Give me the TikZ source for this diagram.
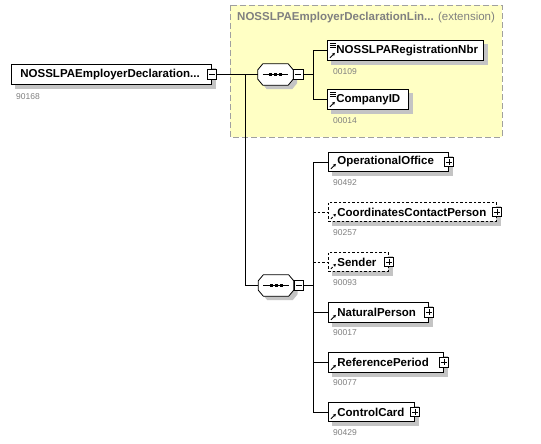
\documentclass[tikz,border=0pt]{standalone}
\usepackage{fontspec}
\setmainfont{Liberation Sans}
\usetikzlibrary{arrows.meta,backgrounds}
\definecolor{extfill}{HTML}{FFFFC4}
\definecolor{extline}{HTML}{A0A0A0}
\definecolor{idgray}{HTML}{808080}
\definecolor{shadowgray}{HTML}{C4C4C4}
\newcommand\octpath[3]{([shift={(5+#2,#3)}]#1.north west) -- ([shift={(-5+#2,#3)}]#1.north east) -- ([shift={(#2,6+#3)}]#1.north east) -- ([shift={(#2,-6+#3)}]#1.south east) -- ([shift={(-5+#2,#3)}]#1.south east) -- ([shift={(5+#2,#3)}]#1.south west) -- ([shift={(#2,-6+#3)}]#1.south west) -- ([shift={(#2,6+#3)}]#1.north west) -- cycle}
\tikzset{
  elem/.style={draw=black,fill=white,rectangle,anchor=north west,inner ysep=0pt,inner xsep=9pt,
    font=\fontsize{11.5}{13}\selectfont\bfseries,line width=0.8pt,align=left},
  optelem/.style={elem,dashed,dash pattern=on 2.5pt off 2pt},
  refarrow/.style={path picture={\draw[line width=0.8pt,-{Stealth[length=3pt,width=3.2pt]}]
      ([shift={(2.5,-2.5)}]path picture bounding box.south west) -- ++(5,-5);}},
  simpleicon/.style={path picture={
      \draw[line width=0.8pt,-{Stealth[length=3pt,width=3.2pt]}]
      ([shift={(2.5,-2.5)}]path picture bounding box.south west) -- ++(5,-5);
      \foreach \k in {2.5,4.5,6.5}{\draw[line width=0.6pt] ([shift={(2.5,\k)}]path picture bounding box.north west) -- ++(6,0);}}},
  idlabel/.style={font=\fontsize{8.5}{9}\selectfont,text=idgray,anchor=west,inner sep=0pt},
  pmbox/.style={draw=black,fill=white,rectangle,minimum size=9.5pt,inner sep=0pt,line width=0.6pt},
  plusbox/.style={pmbox,path picture={
      \draw[line width=0.6pt] ([xshift=1.8pt]path picture bounding box.west) -- ([xshift=-1.8pt]path picture bounding box.east);
      \draw[line width=0.6pt] ([yshift=-1.8pt]path picture bounding box.north) -- ([yshift=1.8pt]path picture bounding box.south);}},
  minusbox/.style={pmbox,path picture={
      \draw[line width=0.6pt] ([xshift=1.8pt]path picture bounding box.west) -- ([xshift=-1.8pt]path picture bounding box.east);}},
  seqnode/.style={rectangle,minimum width=35pt,minimum height=21pt,inner sep=0pt},
  conn/.style={line width=0.8pt,draw=black},
  optconn/.style={conn,dashed,dash pattern=on 2.5pt off 2pt},
}
\begin{document}
\begin{tikzpicture}[x=1pt,y=-1pt]
\begin{scope}[on background layer]
\fill[white] (0,0) rectangle (541,444);
\draw[extline,dash pattern=on 6pt off 3pt,fill=extfill,line width=0.9pt] (230,5) rectangle (502,137);
\end{scope}
\useasboundingbox (0,0) rectangle (541,444);
\node[anchor=west,inner sep=0pt,text=idgray,font=\fontsize{11.5}{13}\selectfont] (title) at (237,18) {\textbf{NOSSLPAEmployerDeclarationLin...} (extension)};
% root
\node[elem,minimum height=20pt,text width=182pt] (root) at (11,64) {NOSSLPAEmployerDeclaration...};
\node[minusbox] (rootpm) at (root.east) {};
\node[idlabel] (rootid) at (16,97) {90168};
% sequences
\node[seqnode] (seq1) at (275.5,74.5) {};
\node[minusbox,anchor=west] (seq1pm) at (seq1.east) {};
\node[seqnode] (seq2) at (276,285.5) {};
\node[minusbox,anchor=west] (seq2pm) at (seq2.east) {};
% extension children
\node[elem,simpleicon,minimum height=20pt,text width=138pt] (reg) at (327,40) {NOSSLPARegistrationNbr};
\node[idlabel] at (333,72) {00109};
\node[elem,simpleicon,minimum height=20pt,text width=63pt] (cid) at (327,89) {CompanyID};
\node[idlabel] at (333,121) {00014};
% sequence 2 children
\node[elem,refarrow,minimum height=19pt,text width=102pt] (oo) at (328,152) {OperationalOffice};
\node[plusbox] at (oo.east) {};
\node[idlabel] at (333,183) {90492};
\node[optelem,refarrow,minimum height=19pt,text width=150pt] (ccp) at (328,202) {CoordinatesContactPerson};
\node[plusbox] at (ccp.east) {};
\node[idlabel] at (333,233) {90257};
\node[optelem,refarrow,minimum height=19pt,text width=42pt] (snd) at (328,252) {Sender};
\node[plusbox] at (snd.east) {};
\node[idlabel] at (333,283) {90093};
\node[elem,refarrow,minimum height=20pt,text width=82pt] (np) at (328,302) {NaturalPerson};
\node[plusbox] at (np.east) {};
\node[idlabel] at (333,333) {90017};
\node[elem,refarrow,minimum height=20pt,text width=97pt] (rp) at (328,352) {ReferencePeriod};
\node[plusbox] at (rp.east) {};
\node[idlabel] at (333,383) {90077};
\node[elem,refarrow,minimum height=19pt,text width=68pt] (cc) at (328,402) {ControlCard};
\node[plusbox] at (cc.east) {};
\node[idlabel] at (333,433) {90429};
% octagons
\foreach \s in {seq1,seq2}{
  \draw[line width=0.8pt,fill=white] \octpath{\s}{0}{0};
  \draw[line width=0.8pt] ([xshift=5pt]\s.west) -- ([xshift=-5pt]\s.east);
  \foreach \d in {-5,0,5}{\fill ([shift={(\d-1.5,-1.3)}]\s.center) rectangle ([shift={(\d+1.5,1.3)}]\s.center);}
}
% shadows
\begin{scope}[on background layer]
\foreach \n in {root,reg,cid,oo,ccp,snd,np,rp,cc}{
  \fill[shadowgray] ([shift={(4,4)}]\n.north west) rectangle ([shift={(4,4)}]\n.south east);}
\foreach \s in {seq1,seq2}{\fill[shadowgray] \octpath{\s}{4}{4};}
\end{scope}
% connectors
\coordinate (j1) at (245,74.5);
\coordinate (b1) at (313,74.5);
\coordinate (b2) at (313,285.5);
\draw[conn] (rootpm.east) -- (seq1.west);
\draw[conn] (j1) |- (seq2.west);
\draw[conn] (seq1pm.east) -- (b1);
\draw[conn] (b1) |- (reg.west);
\draw[conn] (b1) |- (cid.west);
\draw[conn] (seq2pm.east) -- (b2);
\draw[conn] (b2) |- (oo.west);
\draw[conn] (b2) |- (cc.west);
\draw[conn] (b2 |- np.west) -- (np.west);
\draw[conn] (b2 |- rp.west) -- (rp.west);
\draw[optconn] (b2 |- ccp.west) -- (ccp.west);
\draw[optconn] (b2 |- snd.west) -- (snd.west);
\end{tikzpicture}
\end{document}
